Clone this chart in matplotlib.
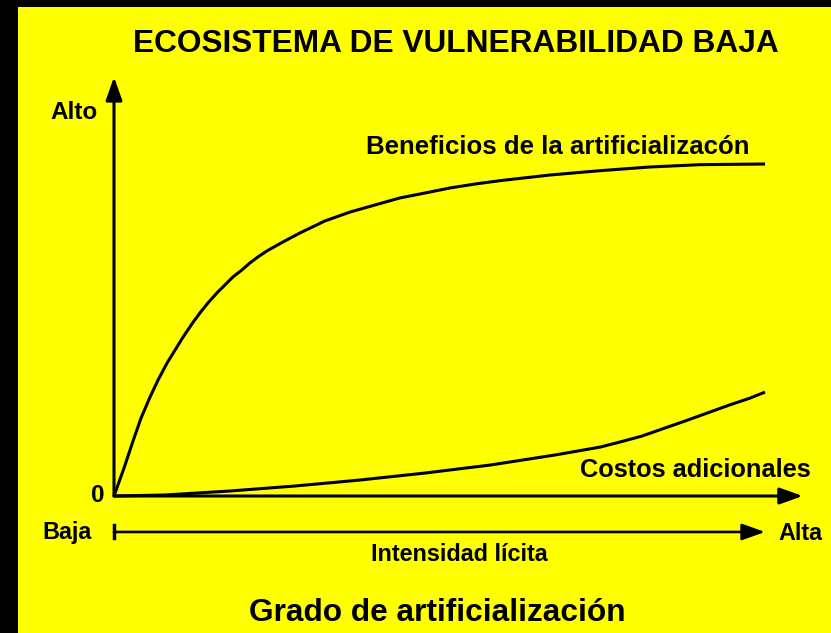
import matplotlib
matplotlib.use("Agg")
import matplotlib.pyplot as plt
from matplotlib.patches import Rectangle, FancyArrowPatch

plt.rcParams['font.family'] = ['Liberation Sans', 'DejaVu Sans']

# curve data (x: grado de artificializacion 0-10, y: 0-10)
ben_x = [0, 0.154, 0.292, 0.415, 0.553, 0.676, 0.814, 0.937, 1.060, 1.198,
         1.321, 1.444, 1.582, 1.705, 1.828, 1.966, 2.089, 2.212, 2.350, 2.596,
         2.857, 3.24, 3.63, 4.01, 4.39, 4.78, 5.16, 5.55, 5.93, 6.70, 7.47,
         8.23, 9.00, 10.0]
ben_y = [0, 0.84, 1.65, 2.34, 2.97, 3.48, 3.99, 4.38, 4.77, 5.17,
         5.50, 5.80, 6.10, 6.34, 6.58, 6.79, 7.00, 7.18, 7.36, 7.63,
         7.90, 8.26, 8.53, 8.74, 8.95, 9.10, 9.25, 9.37, 9.47, 9.64, 9.77,
         9.88, 9.95, 9.97]
cos_x = [0, 0.78, 1.78, 2.78, 3.78, 4.78, 5.78, 6.77, 7.47, 7.77, 8.11,
         8.46, 8.77, 9.11, 9.45, 9.77, 10.0]
cos_y = [0, 0.03, 0.15, 0.30, 0.48, 0.69, 0.93, 1.23, 1.47, 1.62, 1.80,
         2.04, 2.25, 2.49, 2.73, 2.94, 3.12]

W, H = 831, 633
fig = plt.figure(figsize=(W / 100, H / 100), dpi=100)
fig.patch.set_facecolor("black")
fig.add_artist(Rectangle((17.5 / W, 0), 1 - 17.5 / W, 1 - 6.7 / H,
                         transform=fig.transFigure, facecolor="#FFFF00",
                         edgecolor="none", zorder=0))

ax = fig.add_axes([114 / W, (H - 496) / H, 651 / W, 333 / H])
ax.set_xlim(0, 10)
ax.set_ylim(0, 10)
ax.set_axis_off()

ax.plot(ben_x, ben_y, color="black", lw=2.2, clip_on=False,
        solid_joinstyle="round", solid_capstyle="butt")
ax.plot(cos_x, cos_y, color="black", lw=2.2, clip_on=False,
        solid_joinstyle="round", solid_capstyle="butt")

def arrow(p0, p1, lw):
    a = FancyArrowPatch(p0, p1, arrowstyle="-|>,head_length=1.4,head_width=0.5",
                        mutation_scale=10, lw=lw, color="black",
                        shrinkA=0, shrinkB=0, clip_on=False)
    ax.add_patch(a)

# axes arrows
arrow((0, 0), (0, 12.58), 2.2)
arrow((0, 0), (10.58, 0), 2.2)
arrow((0, -1.08), (10.0, -1.08), 1.9)
ax.plot([0, 0], [-0.88, -1.27], color="black", lw=2.5, clip_on=False)

def ftext(x, y, s, size, ha="center"):
    fig.text(x / W, 1 - y / H, s, fontsize=size, fontweight="bold",
             ha=ha, va="baseline", color="black")

ftext(456, 52, "ECOSISTEMA DE VULNERABILIDAD BAJA", 22.8)
ftext(74, 119, "Alto", 17.5)
ftext(98, 502, "0", 17.5)
ftext(67, 539, "Baja", 16.8)
ftext(800, 540, "Alta", 16.8)
ftext(558, 154, "Beneficios de la artificializacón", 18.6)
ftext(695, 477, "Costos adicionales", 18.3)
ftext(459, 561, "Intensidad lícita", 16.8)
ftext(437, 621, "Grado de artificialización", 22.8)

fig.savefig("out.png", dpi=100, facecolor=fig.get_facecolor())
